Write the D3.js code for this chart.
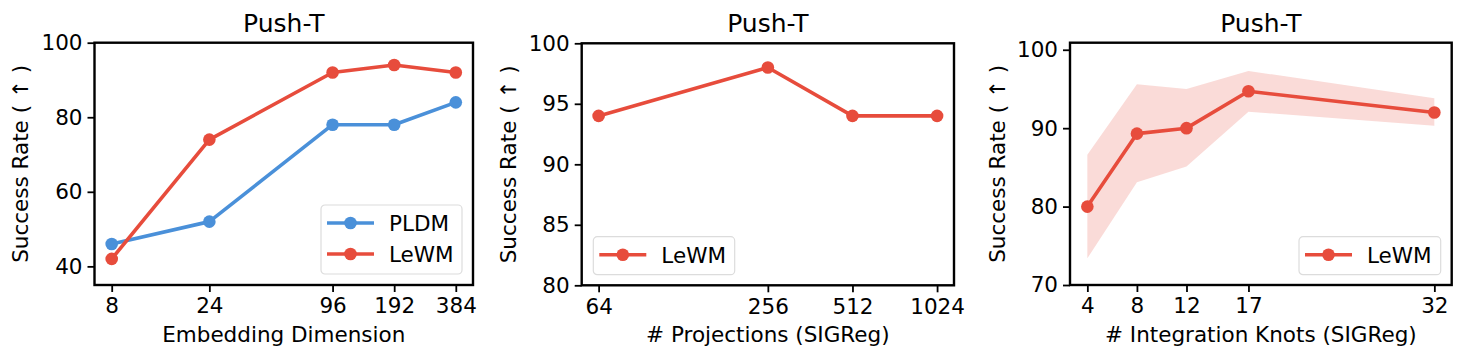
<!DOCTYPE html>
<html>
<head>
<meta charset="utf-8">
<script src="https://cdn.jsdelivr.net/npm/d3@7"></script>
<style>
  body { margin: 0; background: #fff; }
  svg text { font-family: "DejaVu Sans", sans-serif; fill: #000; }
</style>
</head>
<body>
<div id="chart"></div>
<script>
// data
const dimTicks = [8, 24, 96, 192, 384];
const pldmDim = [46, 52, 78, 78, 84];
const lewmDim = [42, 74, 92, 94, 92];

const projTicks = [64, 256, 512, 1024];
const lewmProj = [94, 98, 94, 94];

const knotTicks = [4, 8, 12, 17, 32];
const lewmKnots = [80, 89.3, 90, 94.7, 92];
const knotsLow = [73.4, 83.1, 85.1, 92.1, 90.3];
const knotsHigh = [86.6, 95.6, 95.0, 97.3, 93.8];

const blue = '#4a90d9';
const red = '#e74c3c';
const fs = 21.5;

const svg = d3.select('#chart').append('svg')
  .attr('width', 1465).attr('height', 359);

function drawPanel(p) {
  const g = svg.append('g').attr('transform', `translate(${p.left},${p.top})`);
  const w = p.width, h = p.height;

  let x;
  if (p.log) {
    const lo = Math.log2(p.xs[0]), hi = Math.log2(p.xs[p.xs.length - 1]);
    const m = (hi - lo) * 0.05;
    x = d3.scaleLog().base(2).domain([Math.pow(2, lo - m), Math.pow(2, hi + m)]).range([0, w]);
  } else {
    const lo = p.xs[0], hi = p.xs[p.xs.length - 1];
    const m = (hi - lo) * 0.05;
    x = d3.scaleLinear().domain([lo - m, hi + m]).range([0, w]);
  }
  const y = d3.scaleLinear().domain(p.yDomain).range([h, 0]);

  // shaded band first
  if (p.band) {
    const area = d3.area()
      .x((d, i) => x(p.xs[i]))
      .y0((d, i) => y(p.band.low[i]))
      .y1((d, i) => y(p.band.high[i]));
    g.append('path').datum(p.band.low)
      .attr('d', area).attr('fill', red).attr('fill-opacity', 0.2);
  }

  const line = d3.line().x((d, i) => x(p.xs[i])).y(d => y(d));
  p.series.forEach(s => {
    g.append('path').datum(s.values)
      .attr('d', line).attr('fill', 'none')
      .attr('stroke', s.color).attr('stroke-width', 3.6)
      .attr('stroke-linejoin', 'round');
    g.append('g').selectAll('circle').data(s.values).enter()
      .append('circle')
      .attr('cx', (d, i) => x(p.xs[i])).attr('cy', d => y(d))
      .attr('r', 6.3).attr('fill', s.color);
  });

  // axes
  const xAxis = d3.axisBottom(x).tickValues(p.xs).tickFormat(d3.format('d')).tickSize(7).tickPadding(6);
  const yAxis = d3.axisLeft(y).tickValues(p.yTicks).tickFormat(d3.format('d')).tickSize(7).tickPadding(5);
  const gx = g.append('g').attr('transform', `translate(0,${h})`).call(xAxis);
  const gy = g.append('g').call(yAxis);
  [gx, gy].forEach(a => {
    a.select('.domain').remove();
    a.selectAll('line').attr('stroke', '#000').attr('stroke-width', 1.8);
    a.selectAll('text').attr('font-size', fs).attr('fill', '#000');
  });

  g.append('rect').attr('width', w).attr('height', h)
    .attr('fill', 'none').attr('stroke', '#000').attr('stroke-width', 2.4);

  g.append('text').attr('x', w / 2).attr('y', -11)
    .attr('text-anchor', 'middle').attr('font-size', 25).text(p.title);
  g.append('text').attr('x', w / 2).attr('y', h + 57)
    .attr('text-anchor', 'middle').attr('font-size', fs).text(p.xLabel);
  g.append('text')
    .attr('transform', `translate(${p.yLabelX},${h / 2}) rotate(-90)`)
    .attr('text-anchor', 'middle').attr('font-size', fs).text('Success Rate ( \u2191 )');

  // legend
  const lg = g.append('g').attr('transform', `translate(${p.legend.x},${p.legend.y})`);
  const rowH = 31;
  lg.append('rect').attr('width', p.legend.w).attr('height', 14 + rowH * p.series.length - 7)
    .attr('rx', 4).attr('fill', '#fff').attr('fill-opacity', 0.8)
    .attr('stroke', '#dcdcdc').attr('stroke-width', 1.2);
  p.series.forEach((s, i) => {
    const cy = 18 + i * rowH;
    lg.append('line').attr('x1', 6).attr('x2', 53).attr('y1', cy).attr('y2', cy)
      .attr('stroke', s.color).attr('stroke-width', 3.6);
    lg.append('circle').attr('cx', 29.5).attr('cy', cy).attr('r', 6.3).attr('fill', s.color);
    lg.append('text').attr('x', 68).attr('y', cy + 8).attr('font-size', fs).text(s.name);
  });
}

drawPanel({
  left: 94.5, top: 42.7, width: 378.5, height: 242.3,
  xs: dimTicks, log: true, yDomain: [35, 100], yTicks: [40, 60, 80, 100],
  title: 'Push-T', xLabel: 'Embedding Dimension', yLabelX: -67,
  series: [
    { name: 'PLDM', values: pldmDim, color: blue },
    { name: 'LeWM', values: lewmDim, color: red }
  ],
  legend: { x: 226.5, y: 162.3, w: 141 }
});

drawPanel({
  left: 581.7, top: 43.3, width: 372.3, height: 242,
  xs: projTicks, log: true, yDomain: [80, 100], yTicks: [80, 85, 90, 95, 100],
  title: 'Push-T', xLabel: '# Projections (SIGReg)', yLabelX: -66,
  series: [{ name: 'LeWM', values: lewmProj, color: red }],
  legend: { x: 11.6, y: 193.4, w: 141.4 }
});

drawPanel({
  left: 1070, top: 42.7, width: 381.7, height: 242.3,
  xs: knotTicks, log: false, yDomain: [70, 100.9], yTicks: [70, 80, 90, 100],
  title: 'Push-T', xLabel: '# Integration Knots (SIGReg)', yLabelX: -65,
  series: [{ name: 'LeWM', values: lewmKnots, color: red }],
  band: { low: knotsLow, high: knotsHigh },
  legend: { x: 229, y: 194, w: 141.7 }
});
</script>
</body>
</html>
